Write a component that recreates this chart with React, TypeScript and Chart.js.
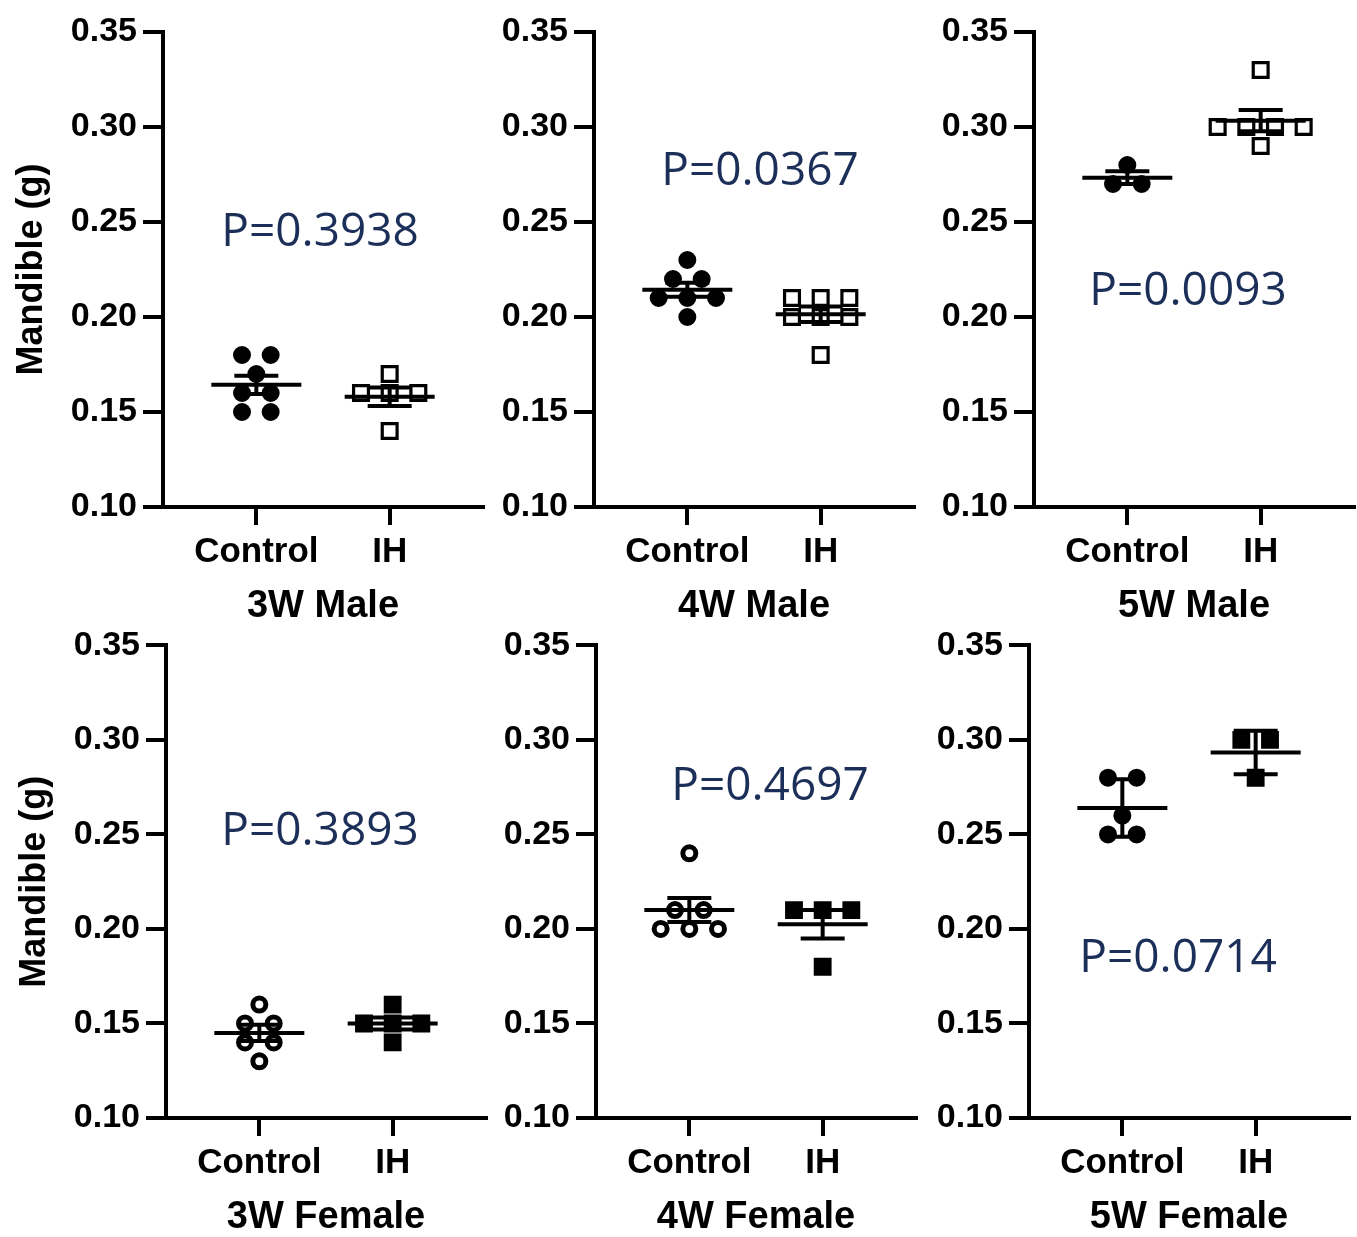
import React, { useEffect, useRef } from 'react';
import { Chart, registerables } from 'chart.js';

Chart.register(...registerables);

// ---------------- data ----------------
const groups = ['Control', 'IH'];
const yTickValues = [0.10, 0.15, 0.20, 0.25, 0.30, 0.35];
const panelTitles = ['3W Male', '4W Male', '5W Male', '3W Female', '4W Female', '5W Female'];
const pValueLabels = ['P=0.3938', 'P=0.0367', 'P=0.0093', 'P=0.3893', 'P=0.4697', 'P=0.0714'];
const yAxisTitle = 'Mandible (g)';

const control3WMale = [0.18, 0.18, 0.17, 0.16, 0.16, 0.15, 0.15];
const ih3WMale = [0.17, 0.16, 0.16, 0.16, 0.14];
const control4WMale = [0.23, 0.22, 0.22, 0.21, 0.21, 0.21, 0.20];
const ih4WMale = [0.21, 0.21, 0.21, 0.20, 0.20, 0.20, 0.18];
const control5WMale = [0.28, 0.27, 0.27];
const ih5WMale = [0.33, 0.30, 0.30, 0.30, 0.30, 0.29];
const control3WFemale = [0.16, 0.15, 0.15, 0.14, 0.14, 0.13];
const ih3WFemale = [0.16, 0.15, 0.15, 0.15, 0.14];
const control4WFemale = [0.24, 0.21, 0.21, 0.20, 0.20, 0.20];
const ih4WFemale = [0.21, 0.21, 0.21, 0.18];
const control5WFemale = [0.28, 0.28, 0.26, 0.25, 0.25];
const ih5WFemale = [0.30, 0.30, 0.28];

// ---------------- styles / layout ----------------
type Marker = { pointStyle: string; radius: number; borderWidth: number; fill: string };
const filledCircle: Marker = { pointStyle: 'circle', radius: 7.5, borderWidth: 3, fill: '#000' };
const openCircle: Marker = { pointStyle: 'circle', radius: 6.5, borderWidth: 5, fill: '#fff' };
const openSquare: Marker = { pointStyle: 'rect', radius: 10.5, borderWidth: 3.2, fill: '#fff' };
const filledSquare: Marker = { pointStyle: 'rect', radius: 10.5, borderWidth: 3, fill: '#000' };

const Y_WIDTH = 163;
const X_HEIGHT = 122;
const PLOT_W = 320;
const PLOT_H = 475;
const PAD_RIGHT = 3;
const LINE_W = 4;
const JITTER = 0.215;
const MEAN_HALF = 0.3375;
const CAP_HALF = 0.165;
const AXIS_FONT = '"Liberation Sans", Arial, sans-serif';

type PanelCfg = {
  axisX: number; plotTop: number; padTop: number;
  series: [number[], number[]]; markers: [Marker, Marker];
  title: string; pText: string; pX: number; pY: number;
  showYTitle: boolean; err: 'sem' | 'sd';
};

const panels: PanelCfg[] = [
  { axisX: 163, plotTop: 32, padTop: 32, series: [control3WMale, ih3WMale], markers: [filledCircle, openSquare], title: panelTitles[0], pText: pValueLabels[0], pX: 1.478, pY: 0.2442, showYTitle: true, err: 'sem' },
  { axisX: 594, plotTop: 32, padTop: 32, series: [control4WMale, ih4WMale], markers: [filledCircle, openSquare], title: panelTitles[1], pText: pValueLabels[1], pX: 1.545, pY: 0.2763, showYTitle: false, err: 'sem' },
  { axisX: 1034, plotTop: 32, padTop: 32, series: [control5WMale, ih5WMale], markers: [filledCircle, openSquare], title: panelTitles[2], pText: pValueLabels[2], pX: 1.455, pY: 0.2132, showYTitle: false, err: 'sem' },
  { axisX: 166, plotTop: 643, padTop: 24, series: [control3WFemale, ih3WFemale], markers: [openCircle, filledSquare], title: panelTitles[3], pText: pValueLabels[3], pX: 1.455, pY: 0.2516, showYTitle: true, err: 'sem' },
  { axisX: 596, plotTop: 643, padTop: 24, series: [control4WFemale, ih4WFemale], markers: [openCircle, filledSquare], title: panelTitles[4], pText: pValueLabels[4], pX: 1.605, pY: 0.2753, showYTitle: false, err: 'sem' },
  { axisX: 1029, plotTop: 643, padTop: 24, series: [control5WFemale, ih5WFemale], markers: [filledCircle, filledSquare], title: panelTitles[5], pText: pValueLabels[5], pX: 1.418, pY: 0.1842, showYTitle: false, err: 'sd' },
];

// ---------------- helpers ----------------
function jittered(values: number[], center: number) {
  const counts = new Map<string, number>();
  values.forEach((v) => counts.set(v.toFixed(4), (counts.get(v.toFixed(4)) || 0) + 1));
  const seen = new Map<string, number>();
  return values.map((v) => {
    const key = v.toFixed(4);
    const n = counts.get(key) || 1;
    const k = seen.get(key) || 0;
    seen.set(key, k + 1);
    return { x: center + (k - (n - 1) / 2) * JITTER, y: v };
  });
}

function stats(values: number[], mode: 'sem' | 'sd') {
  const n = values.length;
  const mean = values.reduce((a, b) => a + b, 0) / n;
  const sd = Math.sqrt(values.reduce((a, b) => a + (b - mean) ** 2, 0) / (n - 1));
  const e = mode === 'sd' ? sd : sd / Math.sqrt(n);
  return { mean, lo: mean - e, hi: mean + e };
}

function segment(data: { x: number; y: number }[]) {
  return {
    data,
    showLine: true,
    borderColor: '#000',
    borderWidth: LINE_W,
    pointRadius: 0,
    pointHoverRadius: 0,
    fill: false,
    borderCapStyle: 'butt',
    order: 0,
  };
}

const pLabelPlugin = {
  id: 'pLabel',
  afterDatasetsDraw(chart: any, _args: any, opts: any) {
    const { ctx, scales } = chart;
    ctx.save();
    ctx.font = '400 46px "Open Sans", sans-serif';
    ctx.fillStyle = '#1c2f58';
    ctx.textAlign = 'center';
    ctx.textBaseline = 'middle';
    ctx.fillText(opts.text, scales.x.getPixelForValue(opts.x), scales.y.getPixelForValue(opts.y));
    ctx.restore();
  },
};

function Panel({ cfg }: { cfg: PanelCfg }) {
  const ref = useRef<HTMLCanvasElement>(null);
  const W = Y_WIDTH + PLOT_W + PAD_RIGHT;
  const H = cfg.padTop + PLOT_H + X_HEIGHT;
  const left = cfg.axisX - Y_WIDTH;
  const top = cfg.plotTop - cfg.padTop;

  useEffect(() => {
    const datasets: any[] = [];
    cfg.series.forEach((values, gi) => {
      const center = gi + 1;
      const m = cfg.markers[gi];
      datasets.push({
        data: jittered(values, center),
        pointStyle: m.pointStyle,
        pointRadius: m.radius,
        pointHoverRadius: m.radius,
        pointBorderWidth: m.borderWidth,
        pointBackgroundColor: m.fill,
        pointBorderColor: '#000',
        showLine: false,
        order: 1,
      });
      const s = stats(values, cfg.err);
      datasets.push(segment([{ x: center - MEAN_HALF, y: s.mean }, { x: center + MEAN_HALF, y: s.mean }]));
      datasets.push(segment([{ x: center - CAP_HALF, y: s.hi }, { x: center + CAP_HALF, y: s.hi }]));
      datasets.push(segment([{ x: center - CAP_HALF, y: s.lo }, { x: center + CAP_HALF, y: s.lo }]));
      datasets.push(segment([{ x: center, y: s.lo }, { x: center, y: s.hi }]));
    });

    const chart = new Chart(ref.current!, {
      type: 'scatter',
      data: { datasets },
      plugins: [pLabelPlugin],
      options: {
        animation: false,
        responsive: false,
        events: [],
        layout: { autoPadding: false, padding: { left: 0, right: PAD_RIGHT, top: cfg.padTop, bottom: 0 } },
        plugins: {
          legend: { display: false },
          tooltip: { enabled: false },
          // @ts-ignore
          pLabel: { text: cfg.pText, x: cfg.pX, y: cfg.pY },
        },
        scales: {
          x: {
            type: 'linear',
            min: 0.3,
            max: 2.7,
            afterBuildTicks: (s: any) => {
              s.ticks = groups.map((_, i) => ({ value: i + 1 }));
            },
            afterFit: (s: any) => {
              s.height = X_HEIGHT;
            },
            ticks: {
              callback: (v: any) => groups[Math.round(Number(v)) - 1] ?? '',
              font: { family: AXIS_FONT, size: 35, weight: 'bold' },
              color: '#000',
              padding: 6,
              maxRotation: 0,
              autoSkip: false,
            },
            grid: { display: true, drawOnChartArea: false, drawTicks: true, tickLength: 18, lineWidth: LINE_W, color: '#000' },
            border: { display: true, width: LINE_W, color: '#000' },
            title: {
              display: true,
              text: cfg.title,
              color: '#000',
              font: { family: AXIS_FONT, size: 38, weight: 'bold' },
              padding: { top: 0, bottom: 0 },
            },
          },
          y: {
            type: 'linear',
            min: 0.1,
            max: 0.35,
            afterBuildTicks: (s: any) => {
              s.ticks = yTickValues.map((v) => ({ value: v }));
            },
            afterFit: (s: any) => {
              s.width = Y_WIDTH;
            },
            ticks: {
              callback: (v: any) => Number(v).toFixed(2),
              font: { family: AXIS_FONT, size: 34, weight: 'bold' },
              color: '#000',
              padding: 6,
            },
            grid: { display: true, drawOnChartArea: false, drawTicks: true, tickLength: 20, lineWidth: LINE_W, color: '#000' },
            border: { display: true, width: LINE_W, color: '#000' },
            title: {
              display: cfg.showYTitle,
              text: yAxisTitle,
              color: '#000',
              font: { family: AXIS_FONT, size: 36, weight: 'bold' },
              padding: { top: 10, bottom: 0 },
            },
          },
        },
      } as any,
    });
    return () => chart.destroy();
  }, []);

  return (
    <canvas
      ref={ref}
      width={W}
      height={H}
      style={{ position: 'absolute', left, top, width: W, height: H }}
    />
  );
}

export default function App() {
  useEffect(() => {
    document.body.style.margin = '0';
  }, []);
  return (
    <div
      style={{
        position: 'absolute',
        left: 0,
        top: 0,
        width: 1357,
        height: 1237,
        overflow: 'hidden',
        background: '#fff',
      }}
    >
      {panels.map((p, i) => (
        <Panel key={i} cfg={p} />
      ))}
    </div>
  );
}
